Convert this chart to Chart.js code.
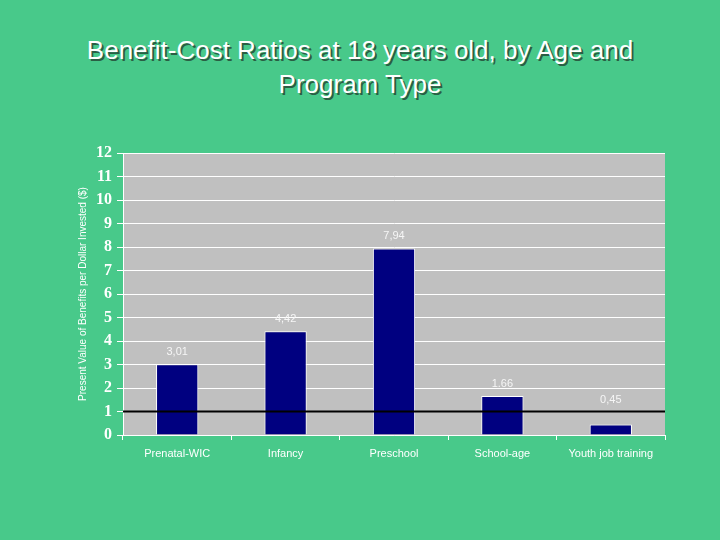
<!DOCTYPE html>
<html>
<head>
<meta charset="utf-8">
<script src="https://cdn.jsdelivr.net/npm/chart.js@4/dist/chart.umd.min.js"></script>
<style>
    body { margin: 0; background: #48c98a; }
    #wrap { position: relative; width: 720px; height: 540px; }
    #title {
        position: absolute; top: 33px; left: 0; width: 720px;
        text-align: center; color: #ffffff;
        font-family: "Liberation Sans", Arial, sans-serif; font-size: 26px; line-height: 34px;
        text-shadow: 2px 2px 0 #2a5e44;
    }
    canvas { position: absolute; top: 0; left: 0; }
</style>
</head>
<body>
<div id="wrap">
    <div id="title">Benefit-Cost Ratios at 18 years old, by Age and<br>Program Type</div>
    <canvas id="ratioChart" width="720" height="540"></canvas>
</div>
<script>
// Data
const programs = ['Prenatal-WIC', 'Infancy', 'Preschool', 'School-age', 'Youth job training'];
const ratios = [3.01, 4.42, 7.94, 1.66, 0.45];
const ratioLabels = ['3,01', '4,42', '7,94', '1.66', '0,45'];
const breakEven = 1;
const yTicks = [0, 1, 2, 3, 4, 5, 6, 7, 8, 9, 10, 11, 12];

// Gray plot background
const plotBackground = {
    id: 'plotBackground',
    beforeDraw(chart) {
        const { ctx, chartArea: a } = chart;
        ctx.save();
        ctx.fillStyle = '#c0c0c0';
        ctx.fillRect(a.left, a.top, a.right - a.left, a.bottom - a.top);
        ctx.restore();
    }
};

// Break-even line and value labels
const overlays = {
    id: 'overlays',
    afterDatasetsDraw(chart) {
        const { ctx, chartArea: a, scales } = chart;
        const y = scales.y.getPixelForValue(breakEven);
        ctx.save();
        ctx.strokeStyle = '#000000';
        ctx.lineWidth = 2;
        ctx.beginPath();
        ctx.moveTo(a.left, y);
        ctx.lineTo(a.right, y);
        ctx.stroke();

        ctx.fillStyle = '#f6f6f6';
        ctx.font = '11px "Liberation Sans", Arial, sans-serif';
        ctx.textAlign = 'center';
        ctx.textBaseline = 'middle';
        chart.getDatasetMeta(0).data.forEach((bar, i) => {
            // keep labels clear of the break-even line
            ctx.fillText(ratioLabels[i], bar.x, Math.min(bar.y, y) - 12);
        });
        ctx.restore();
    }
};

const ctx = document.getElementById('ratioChart').getContext('2d');
new Chart(ctx, {
    type: 'bar',
    data: {
        labels: programs,
        datasets: [{
            data: ratios,
            backgroundColor: '#000080',
            borderColor: '#ffffff',
            borderWidth: 1,
            categoryPercentage: 1,
            barPercentage: 0.39
        }]
    },
    options: {
        responsive: false,
        animation: false,
        layout: { padding: { left: 77, top: 153, right: 55, bottom: 75 } },
        plugins: { legend: { display: false }, tooltip: { enabled: false } },
        scales: {
            x: {
                afterFit: (s) => { s.height = 30; },
                grid: { drawOnChartArea: false, color: '#ffffff', tickLength: 5 },
                border: { color: '#ffffff' },
                ticks: {
                    color: '#ffffff',
                    font: { family: '"Liberation Sans", Arial, sans-serif', size: 11 },
                    padding: 7
                }
            },
            y: {
                min: 0,
                max: 12,
                afterFit: (s) => { s.width = 46; },
                afterBuildTicks: (s) => { s.ticks = yTicks.map(v => ({ value: v })); },
                grid: { color: '#ffffff', tickLength: 6 },
                border: { color: '#ffffff' },
                ticks: {
                    color: '#ffffff',
                    font: { family: '"Liberation Serif", "Times New Roman", serif', size: 16, weight: 'bold' },
                    padding: 5
                },
                title: {
                    display: true,
                    text: 'Present Value of Benefits per Dollar Invested ($)',
                    color: '#ffffff',
                    font: { family: '"Liberation Sans", Arial, sans-serif', size: 10 },
                    padding: 0
                }
            }
        }
    },
    plugins: [plotBackground, overlays]
});
</script>
</body>
</html>
